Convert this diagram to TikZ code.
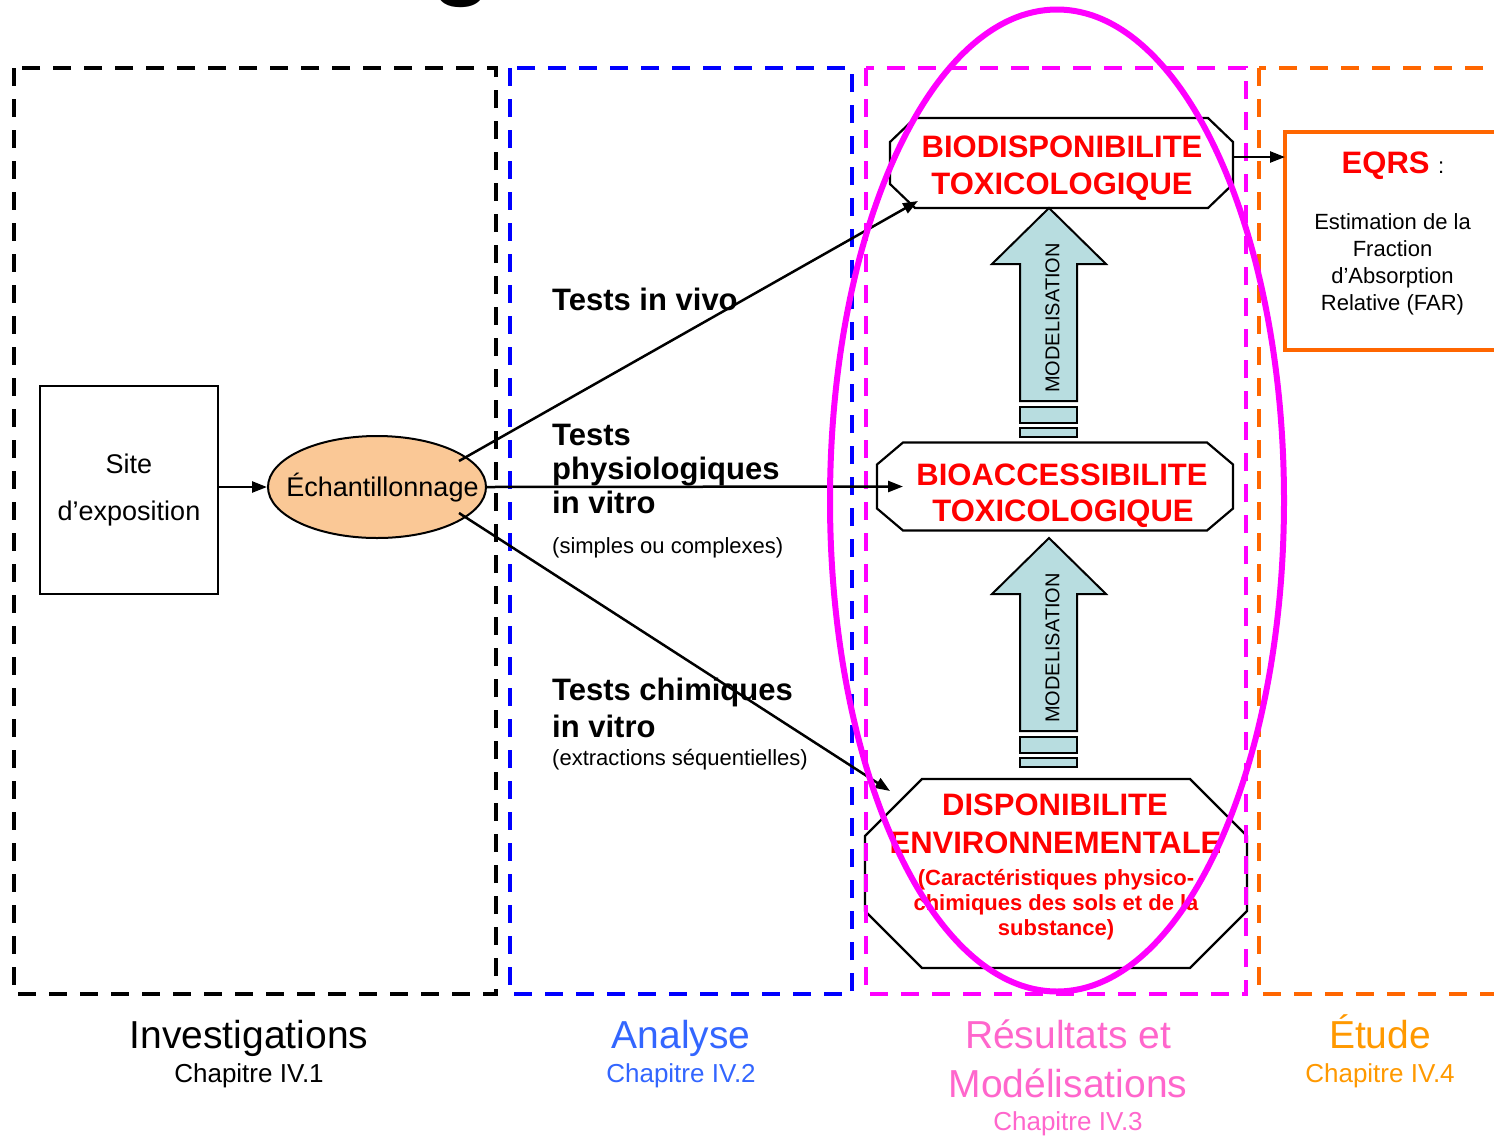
\documentclass[tikz,border=0pt]{standalone}
\usepackage{fontspec}
\setmainfont{Liberation Sans}
\usetikzlibrary{arrows.meta,calc,shapes.geometric}

\definecolor{zoneblue}{RGB}{0,0,255}
\definecolor{zonemagenta}{RGB}{255,0,255}
\definecolor{zoneorange}{RGB}{255,102,0}
\definecolor{peach}{RGB}{250,200,150}
\definecolor{modelfill}{RGB}{184,221,224}
\definecolor{labelblue}{RGB}{51,102,255}
\definecolor{labelpink}{RGB}{255,102,204}
\definecolor{labelorange}{RGB}{255,153,0}

\newcommand\fs[2]{\fontsize{#1}{#2}\selectfont}

% chamfered outline around a named (invisible) node: node, x cut, y cut
\newcommand\octoutline[3]{%
  \draw[octline] ($(#1.north west)+(#2,0)$) -- ($(#1.north east)+(-#2,0)$)
    -- ($(#1.north east)+(0,#3)$) -- ($(#1.south east)+(0,-#3)$)
    -- ($(#1.south east)+(-#2,0)$) -- ($(#1.south west)+(#2,0)$)
    -- ($(#1.south west)+(0,-#3)$) -- ($(#1.north west)+(0,#3)$) -- cycle;}

% upward block arrow with two bars below, tip at the scope origin
\newcommand\modelarrow[1]{%
  \draw[modelstyle] (0,0) -- (57,56) -- (28,56) -- (28,193) -- (-29,193)
    -- (-29,56) -- (-57,56) -- cycle;
  \draw[modelstyle] (-29,199) rectangle (28,215);
  \draw[modelstyle] (-29,220) rectangle (28,229);
  \node[rotate=90, inner sep=0pt, font=\fs{20}{24}] (#1) at (3.5,110) {MODELISATION};}

\begin{document}
\begin{tikzpicture}[x=1pt,y=-1pt,
  zone/.style={line width=4pt, dash pattern=on 18pt off 13pt},
  conn/.style={line width=2.5pt, -{Triangle[length=15pt,width=11pt]}},
  octline/.style={line width=2.2pt, fill=white, line join=miter},
  modelstyle/.style={draw=black, line width=2pt, fill=modelfill},
  holder/.style={inner sep=0pt, outer sep=0pt},
  redbig/.style={text=red, font=\fs{31}{37}\bfseries, inner sep=0pt, anchor=base},
  redsmall/.style={text=red, font=\fs{22}{26}\bfseries, inner sep=0pt, anchor=base},
  testbold/.style={font=\fs{31}{37}\bfseries, inner sep=0pt, anchor=base west},
  testnote/.style={font=\fs{22}{26}, inner sep=0pt, anchor=base west},
  eqrstxt/.style={font=\fs{22}{26}, inner sep=0pt, anchor=base},
  zonetitle/.style={font=\fs{39}{44}, inner sep=0pt, anchor=base},
  zonechap/.style={font=\fs{26}{30}, inner sep=0pt, anchor=base}
]
\useasboundingbox (0,0) rectangle (1494,1136);
\fill[white] (0,0) rectangle (1494,1136);

% descender of the slide title above the frame
\node[font=\fs{100}{100}\bfseries, anchor=base, inner sep=0pt] (titleg) at (462,-14) {g};

% ---- result boxes (chamfered) ----
\node[holder, minimum width=343pt, minimum height=90pt] (bio) at (1061.5,163) {};
\node[holder, minimum width=356pt, minimum height=88pt] (bacc) at (1055,486.5) {};
\node[holder, minimum width=382pt, minimum height=189pt] (dis) at (1056,873.5) {};
\octoutline{bio}{25}{24}
\octoutline{bacc}{26}{22}
\octoutline{dis}{57}{57}

\node[redbig] (bio1) at (1062,157) {BIODISPONIBILITE};
\node[redbig] (bio2) at (1062,194) {TOXICOLOGIQUE};
\node[redbig] (bacc1) at (1062,485) {BIOACCESSIBILITE};
\node[redbig] (bacc2) at (1063,521) {TOXICOLOGIQUE};
\node[redbig] (dis1) at (1055,815) {DISPONIBILITE};
\node[redbig] (dis2) at (1055.5,853) {ENVIRONNEMENTALE};
\node[redsmall] (dis3) at (1056,885) {(Caractéristiques physico-};
\node[redsmall] (dis4) at (1056,910) {chimiques des sols et de la};
\node[redsmall] (dis5) at (1056,935) {substance)};

% ---- modelling arrows ----
\begin{scope}[shift={(1049,208)}]\modelarrow{model1}\end{scope}
\begin{scope}[shift={(1049,538)}]\modelarrow{model2}\end{scope}

% ---- EQRS box ----
\node[holder, draw=zoneorange, line width=4.5pt, minimum width=250pt, minimum height=218pt] (eqrs) at (1410,241) {};
\node[inner sep=0pt, anchor=base] (eqrs0) at (1393,173) {\fs{31}{37}\bfseries\color{red}EQRS \fs{22}{26}\mdseries\color{black}:};
\node[eqrstxt] (eqrs1) at (1392.5,229) {Estimation de la};
\node[eqrstxt] (eqrs2) at (1392.5,256) {Fraction};
\node[eqrstxt] (eqrs3) at (1392.5,283) {d’Absorption};
\node[eqrstxt] (eqrs4) at (1392.5,310) {Relative (FAR)};

% ---- dashed zones ----
\draw[zone, black] (14,68) rectangle (496,994);
\draw[zone, zoneblue] (510,68) rectangle (852,994);
\draw[zone, zonemagenta] (866,68) rectangle (1246,994);
\draw[zone, zoneorange] (1259,68) rectangle (1530,994);

% ---- site and sampling ----
\node[holder, draw, line width=2pt, minimum width=178pt, minimum height=208pt,
      align=center, font=\fs{27}{47}] (site) at (129,490) {Site\\d’exposition};
\node[ellipse, draw, fill=peach, line width=2pt, minimum width=218pt,
      minimum height=102pt, inner sep=0pt] (ech) at (377,487) {};
\node[inner sep=0pt, font=\fs{27}{32}] (echt) at (382.5,488) {Échantillonnage};

% ---- connectors ----
\coordinate (echup) at ($(ech.center)+(82,-26)$);
\coordinate (echdown) at ($(ech.center)+(82,26)$);
\coordinate (biotip) at ($(bio.south west)+(28,-7)$);
\coordinate (bacctip) at ($(bacc.west)+(26,0)$);
\coordinate (distip) at ($(dis.north west)+(25,12)$);
\coordinate (bioout) at ($(bio.east)+(0,-6)$);
\draw[conn] (site.east |- ech.west) -- (ech.west);
\draw[conn] (echup) -- (biotip);
\draw[conn] (ech.east) -- (bacctip);
\draw[conn] (echdown) -- (distip);
\draw[conn] (bioout) -- (bioout -| eqrs.west);

% ---- test labels ----
\node[testbold] (vivo) at (552,310) {Tests in vivo};
\node[testbold] (phys1) at (552,445) {Tests};
\node[testbold] (phys2) at (552,479) {physiologiques};
\node[testbold] (phys3) at (552,513) {in vitro};
\node[testnote] (phys4) at (552,553) {(simples ou complexes)};
\node[testbold] (chim1) at (552,700) {Tests chimiques};
\node[testbold] (chim2) at (552,737) {in vitro};
\node[testnote] (chim3) at (552,765) {(extractions séquentielles)};

% ---- zone titles ----
\node[zonetitle] (z1) at (249,1048) {Investigations};
\node[zonechap] (z1c) at (249,1082) {Chapitre IV.1};
\node[zonetitle, text=labelblue] (z2) at (681,1048) {Analyse};
\node[zonechap, text=labelblue] (z2c) at (681,1082) {Chapitre IV.2};
\node[zonetitle, text=labelpink] (z3) at (1068,1048) {Résultats et};
\node[zonetitle, text=labelpink] (z3b) at (1068,1097) {Modélisations};
\node[zonechap, text=labelpink] (z3c) at (1068,1130) {Chapitre IV.3};
\node[zonetitle, text=labelorange] (z4) at (1380,1048) {Étude};
\node[zonechap, text=labelorange] (z4c) at (1380,1082) {Chapitre IV.4};

% ---- highlight around the results ----
\draw[zonemagenta, line width=6pt] (1057,500.5) ellipse [x radius=227, y radius=491];
\end{tikzpicture}
\end{document}
